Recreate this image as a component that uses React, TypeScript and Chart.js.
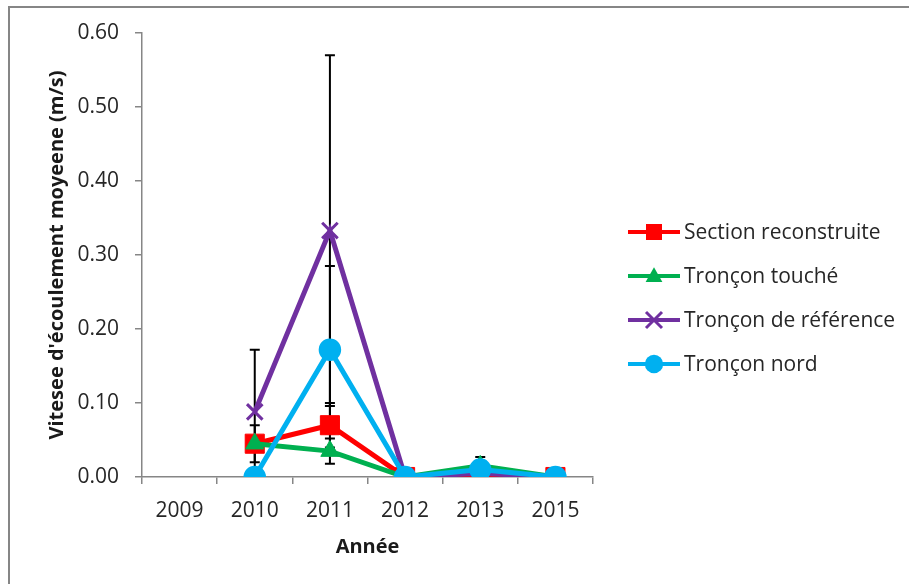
import React, { useEffect, useRef } from "react";
import { Chart, registerables } from "chart.js";

Chart.register(...registerables);

const categories = ["2009", "2010", "2011", "2012", "2013", "2015"];
const seriesNames = ["Section reconstruite", "Tronçon touché", "Tronçon de référence", "Tronçon nord"];
const sectionValues = [null, 0.045, 0.07, 0, 0, 0];
const toucheValues = [null, 0.045, 0.035, 0, 0.015, 0];
const referenceValues = [null, 0.088, 0.333, 0, 0.005, 0];
const nordValues = [null, 0, 0.172, 0, 0.01, 0];
const sectionErrors = [null, 0.025, 0.03, null, null, null];
const toucheErrors = [null, null, 0.017, null, 0.012, null];
const referenceErrors = [null, 0.084, 0.237, null, null, null];
const nordErrors = [null, null, 0.113, null, null, null];
const yTicks = [0, 0.1, 0.2, 0.3, 0.4, 0.5, 0.6];
const yTitle = "Vitesee d'écoulement moyeene (m/s)";
const xTitle = "Année";

const colors = ["#FF0000", "#00B050", "#7030A0", "#00B0F0"];
const styles = ["rect", "triangle", "crossRot", "circle"];
const allErrors = [sectionErrors, toucheErrors, referenceErrors, nordErrors];
const FONT = "'Open Sans', sans-serif";

function drawMarker(ctx: CanvasRenderingContext2D, style: string, x: number, y: number, color: string, s: number) {
  ctx.save();
  ctx.fillStyle = color;
  ctx.strokeStyle = color;
  ctx.beginPath();
  if (style === "rect") {
    ctx.rect(x - s, y - s, 2 * s, 2 * s);
    ctx.fill();
  } else if (style === "triangle") {
    ctx.moveTo(x, y - s * 1.1);
    ctx.lineTo(x + s * 1.05, y + s * 0.75);
    ctx.lineTo(x - s * 1.05, y + s * 0.75);
    ctx.closePath();
    ctx.fill();
  } else if (style === "crossRot") {
    ctx.lineWidth = 3;
    ctx.moveTo(x - s, y - s);
    ctx.lineTo(x + s, y + s);
    ctx.moveTo(x + s, y - s);
    ctx.lineTo(x - s, y + s);
    ctx.stroke();
  } else {
    ctx.arc(x, y, s * 1.15, 0, Math.PI * 2);
    ctx.fill();
  }
  ctx.restore();
}

const framePlugin = {
  id: "frame",
  beforeDraw(chart: any) {
    const ctx = chart.ctx;
    ctx.save();
    ctx.fillStyle = "#ffffff";
    ctx.fillRect(0, 0, chart.width, chart.height);
    ctx.strokeStyle = "#868686";
    ctx.lineWidth = 2;
    ctx.strokeRect(9, 7, 1200, 1200);
    ctx.restore();
  },
};

const errorBarPlugin = {
  id: "errorBars",
  beforeDatasetsDraw(chart: any) {
    const ctx = chart.ctx;
    const yScale = chart.scales.y;
    ctx.save();
    ctx.strokeStyle = "#000000";
    ctx.lineWidth = 2;
    chart.data.datasets.forEach((ds: any, i: number) => {
      const meta = chart.getDatasetMeta(i);
      const errs = allErrors[i];
      meta.data.forEach((pt: any, j: number) => {
        const e = errs[j];
        const v = ds.data[j];
        if (e == null || v == null) return;
        const x = pt.x;
        const yTop = yScale.getPixelForValue(v + e);
        const yBot = yScale.getPixelForValue(v - e);
        ctx.beginPath();
        ctx.moveTo(x, yTop);
        ctx.lineTo(x, yBot);
        ctx.moveTo(x - 5, yTop);
        ctx.lineTo(x + 5, yTop);
        ctx.moveTo(x - 5, yBot);
        ctx.lineTo(x + 5, yBot);
        ctx.stroke();
      });
    });
    ctx.restore();
  },
};

const legendPlugin = {
  id: "customLegend",
  afterDraw(chart: any) {
    const ctx = chart.ctx;
    ctx.save();
    const x0 = 628;
    const x1 = 680;
    const rows = [232, 276, 320, 364];
    seriesNames.forEach((name, i) => {
      const y = rows[i];
      ctx.strokeStyle = colors[i];
      ctx.lineWidth = 4;
      ctx.beginPath();
      ctx.moveTo(x0, y);
      ctx.lineTo(x1, y);
      ctx.stroke();
      drawMarker(ctx, styles[i], (x0 + x1) / 2, y, colors[i], 8);
      ctx.fillStyle = "#262626";
      ctx.font = `21px ${FONT}`;
      ctx.textBaseline = "middle";
      ctx.textAlign = "left";
      ctx.fillText(name, 684, y + 1);
    });
    ctx.restore();
  },
};

export default function App() {
  const canvasRef = useRef<HTMLCanvasElement | null>(null);

  useEffect(() => {
    const canvas = canvasRef.current;
    if (!canvas) return;
    const valueSets = [sectionValues, toucheValues, referenceValues, nordValues];
    const radii = [13.5, 10.5, 11, 10.5];
    const chart = new Chart(canvas, {
      type: "line",
      data: {
        labels: categories,
        datasets: valueSets.map((vals, i) => ({
          label: seriesNames[i],
          data: vals,
          borderColor: colors[i],
          backgroundColor: colors[i],
          borderWidth: 5,
          pointStyle: styles[i] as any,
          pointRadius: radii[i],
          pointBackgroundColor: colors[i],
          pointBorderColor: colors[i],
          pointBorderWidth: i === 2 ? 3 : i === 3 ? 1.5 : 1,
          tension: 0,
          order: 4 - i,
        })),
      },
      options: {
        responsive: false,
        animation: false,
        devicePixelRatio: 1,
        layout: { padding: { left: 10, right: 316, top: 33, bottom: 0 } },
        plugins: {
          legend: { display: false },
          tooltip: { enabled: false },
        },
        scales: {
          x: {
            type: "category",
            offset: true,
            grid: {
              offset: true,
              drawOnChartArea: false,
              drawTicks: true,
              tickLength: 7,
              color: "#868686",
              lineWidth: 1.5,
            },
            border: { display: true, color: "#868686", width: 1.5 },
            ticks: { color: "#262626", font: { family: FONT, size: 21 }, padding: 14 },
            title: {
              display: true,
              text: xTitle,
              color: "#1a1a1a",
              font: { family: FONT, size: 20, weight: "bold" },
              padding: { top: 0, bottom: 25 },
            },
            afterFit(scale: any) {
              scale.height = 107;
            },
          },
          y: {
            min: 0,
            max: 0.6,
            afterBuildTicks(scale: any) {
              scale.ticks = yTicks.map((v) => ({ value: v }));
            },
            grid: {
              drawOnChartArea: false,
              drawTicks: true,
              tickLength: 7,
              color: "#868686",
              lineWidth: 1.5,
            },
            border: { display: true, color: "#868686", width: 1.5 },
            ticks: {
              color: "#262626",
              font: { family: FONT, size: 21 },
              padding: 16,
              callback: (v: any) => Number(v).toFixed(2),
            },
            title: {
              display: true,
              text: yTitle,
              color: "#1a1a1a",
              font: { family: FONT, size: 20, weight: "bold" },
              padding: { top: 35, bottom: 0 },
            },
            afterFit(scale: any) {
              scale.width = 132;
            },
          },
        },
      },
      plugins: [framePlugin, errorBarPlugin, legendPlugin],
    });
    return () => chart.destroy();
  }, []);

  return (
    <div style={{ position: "absolute", left: 0, top: 0, width: 909, height: 584, background: "#fff" }}>
      <canvas ref={canvasRef} width={909} height={584} style={{ display: "block" }} />
    </div>
  );
}
